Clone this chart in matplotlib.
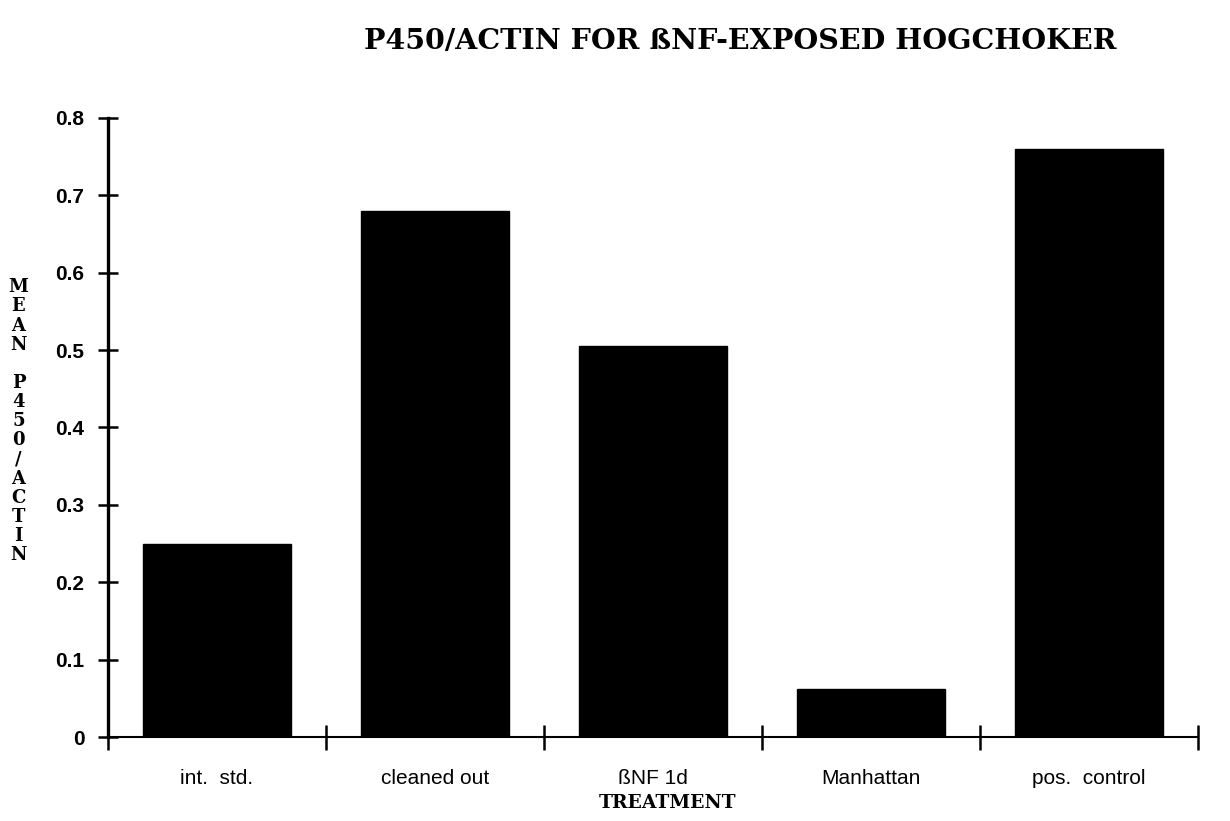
import matplotlib
matplotlib.use("Agg")
import matplotlib.pyplot as plt
import numpy as np

categories = ["int.  std.", "cleaned out", "\u00dfNF 1d", "Manhattan", "pos.  control"]
values = [0.25, 0.68, 0.505, 0.062, 0.76]
yticks = [0, 0.1, 0.2, 0.3, 0.4, 0.5, 0.6, 0.7, 0.8]
ytick_labels = ["0", "0.1", "0.2", "0.3", "0.4", "0.5", "0.6", "0.7", "0.8"]
title = "P450/ACTIN FOR \u00dfNF-EXPOSED HOGCHOKER"
xlabel = "TREATMENT"
ylabel = "MEAN P450/ACTIN"

fig = plt.figure(figsize=(12.3, 8.21), dpi=100)
ax = fig.add_axes([0.0878, 0.1023, 0.8862, 0.7540])

x = np.arange(len(categories))
ax.bar(x, values, width=0.68, color="black", edgecolor="black", zorder=2)

ax.set_xlim(-0.5, len(categories) - 0.5)
ax.set_ylim(0, 0.8)
ax.set_yticks(yticks)
ax.set_yticklabels(ytick_labels, fontsize=15, fontweight="bold", family="Liberation Sans")

# boundary ticks on x axis, labels centred under the bars
ax.set_xticks(np.arange(len(categories) + 1) - 0.5)
ax.set_xticklabels([])
ax.set_xticks(x, minor=True)
ax.set_xticklabels(categories, minor=True, fontsize=15, family="Liberation Sans")
ax.tick_params(axis="x", which="minor", length=0, pad=23)
ax.tick_params(axis="x", which="major", direction="inout", length=18, width=1.8)
ax.tick_params(axis="y", direction="inout", length=14, width=1.8, pad=10)

for s in ["top", "right"]:
    ax.spines[s].set_visible(False)
ax.spines["left"].set_linewidth(2.4)
ax.spines["bottom"].set_linewidth(1.5)

fig.text(0.602, 0.950, title, ha="center", va="center", fontsize=20.5,
         fontweight="bold", family="DejaVu Serif")
fig.text(0.543, 0.022, xlabel, ha="center", va="center", fontsize=13.5,
         fontweight="bold", family="DejaVu Serif")
fig.text(0.015, 0.487, "\n".join(list(ylabel)), ha="center", va="center",
         fontsize=13, fontweight="bold", family="DejaVu Serif", linespacing=1.08)

fig.savefig("out.png", dpi=100)
